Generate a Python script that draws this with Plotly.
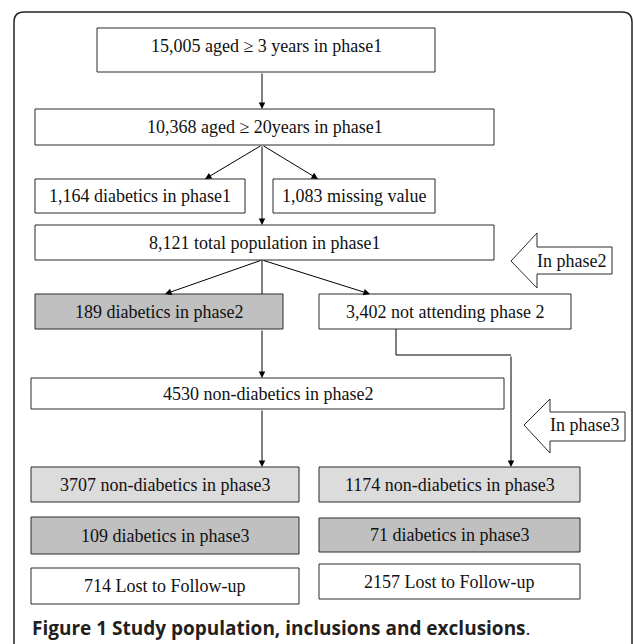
import plotly.graph_objects as go

W, H = 633, 644

# ---- data: box labels ----
labels_phase1 = [
    "15,005 aged \u2265 3 years in phase1",
    "10,368 aged \u2265 20years in phase1",
    "1,164 diabetics in phase1",
    "1,083 missing value",
    "8,121 total population in phase1",
]
labels_phase2 = [
    "189 diabetics in phase2",
    "3,402 not attending phase 2",
    "4530 non-diabetics in phase2",
]
labels_phase3_left = [
    "3707 non-diabetics in phase3",
    "109 diabetics in phase3",
    "714 Lost to Follow-up",
]
labels_phase3_right = [
    "1174 non-diabetics in phase3",
    "71 diabetics in phase3",
    "2157 Lost to Follow-up",
]
phase_labels = ["In phase2", "In phase3"]
caption_bold = "Figure 1"
caption_rest = "Study population, inclusions and exclusions"

# ---- layout geometry (x0, x1, y0, y1, fill, text_y) ----
WHITE, DARK, LIGHT = "#ffffff", "#c0c0c0", "#dcdcdc"
geom_phase1 = [
    (97, 435, 28, 72, WHITE, 46),
    (35, 494, 109, 145, WHITE, None),
    (35, 245, 179, 213, WHITE, None),
    (273, 435, 179, 213, WHITE, None),
    (35, 494, 225, 260, WHITE, None),
]
geom_phase2 = [
    (35, 283, 294, 329, DARK, None),
    (319, 571, 294, 329, WHITE, None),
    (31, 504, 378, 409, WHITE, None),
]
geom_left = [
    (31, 299, 467, 502, LIGHT, None),
    (31, 299, 517, 554, DARK, None),
    (31, 299, 568, 604, WHITE, None),
]
geom_right = [
    (319, 580, 467, 502, LIGHT, None),
    (319, 580, 518, 552, DARK, None),
    (319, 580, 564, 599, WHITE, None),
]

fig = go.Figure()
shapes, annotations = [], []
LINE = "#2b2b2b"
SERIF = "Liberation Serif, Times New Roman, serif"
FS = 18


def add_box(label, g):
    x0, x1, y0, y1, fill, ty = g
    shapes.append(dict(type="rect", xref="x", yref="y", x0=x0, x1=x1, y0=y0, y1=y1,
                       fillcolor=fill, line=dict(color=LINE, width=1), layer="below"))
    annotations.append(dict(x=(x0 + x1) / 2, y=ty if ty is not None else (y0 + y1) / 2,
                            xref="x", yref="y", text=label, showarrow=False,
                            font=dict(family=SERIF, size=FS, color="#111")))


for lbls, gs in [(labels_phase1, geom_phase1), (labels_phase2, geom_phase2),
                 (labels_phase3_left, geom_left), (labels_phase3_right, geom_right)]:
    for l, g in zip(lbls, gs):
        add_box(l, g)


def arrow(x0, y0, x1, y1):
    annotations.append(dict(x=x1, y=y1, ax=x0, ay=y0, xref="x", yref="y",
                            axref="x", ayref="y", text="", showarrow=True,
                            arrowhead=2, arrowsize=1.3, arrowwidth=1,
                            arrowcolor="#000", standoff=0, startstandoff=0))


def line(pts):
    path = "M " + " L ".join(f"{x},{y}" for x, y in pts)
    shapes.append(dict(type="path", xref="x", yref="y", path=path,
                       line=dict(color="#000", width=1)))


arrow(262, 72, 262, 109)
arrow(262, 145, 205, 179)
arrow(262, 145, 318, 179)
arrow(262, 145, 262, 225)
arrow(262, 260, 165, 294)
arrow(262, 260, 370, 294)
line([(262, 260), (262, 294)])
arrow(262, 329, 262, 378)
arrow(262, 409, 262, 467)
line([(396, 329), (396, 355), (511, 355)])
arrow(511, 355, 511, 467)

# block arrows (tip_x, tip_y, head_x, head_top, head_bot, body_top, body_bot, right)
block_geom = [
    (511, 261, 537, 233, 288, 247, 274, 612),
    (524, 425, 550, 399, 453, 412, 441, 625),
]
for lbl, (tx, ty, hx, ht, hb, bt, bb, rx) in zip(phase_labels, block_geom):
    path = (f"M {tx},{ty} L {hx},{ht} L {hx},{bt} L {rx},{bt} L {rx},{bb} "
            f"L {hx},{bb} L {hx},{hb} Z")
    shapes.append(dict(type="path", xref="x", yref="y", path=path,
                       fillcolor="#ffffff", line=dict(color=LINE, width=1)))
    annotations.append(dict(x=(hx + rx) / 2 - 3, y=ty, xref="x", yref="y", text=lbl,
                            showarrow=False, font=dict(family=SERIF, size=FS, color="#111")))

# outer rounded frame
r = 10
frame = (f"M 14,{H + 10} L 14,{12 + r} Q 14,12 {14 + r},12 L {632 - r},12 "
         f"Q 632,12 632,{12 + r} L 632,{H + 10}")
shapes.append(dict(type="path", xref="x", yref="y", path=frame,
                   line=dict(color="#222", width=1.5)))

# caption
annotations.append(dict(x=30, y=628, xref="x", yref="y", xanchor="left",
                        text=f"<b>{caption_bold} {caption_rest}</b>.", showarrow=False,
                        font=dict(family="Open Sans", size=19, color="#231f20")))

fig.update_layout(
    width=W, height=H, margin=dict(l=0, r=0, t=0, b=0),
    paper_bgcolor="white", plot_bgcolor="white",
    xaxis=dict(range=[0, W], visible=False, fixedrange=True),
    yaxis=dict(range=[H, 0], visible=False, fixedrange=True),
    shapes=shapes, annotations=annotations, showlegend=False,
)

fig.write_html("out.html", config={"displayModeBar": False},
               post_script="document.body.style.margin='0';")
